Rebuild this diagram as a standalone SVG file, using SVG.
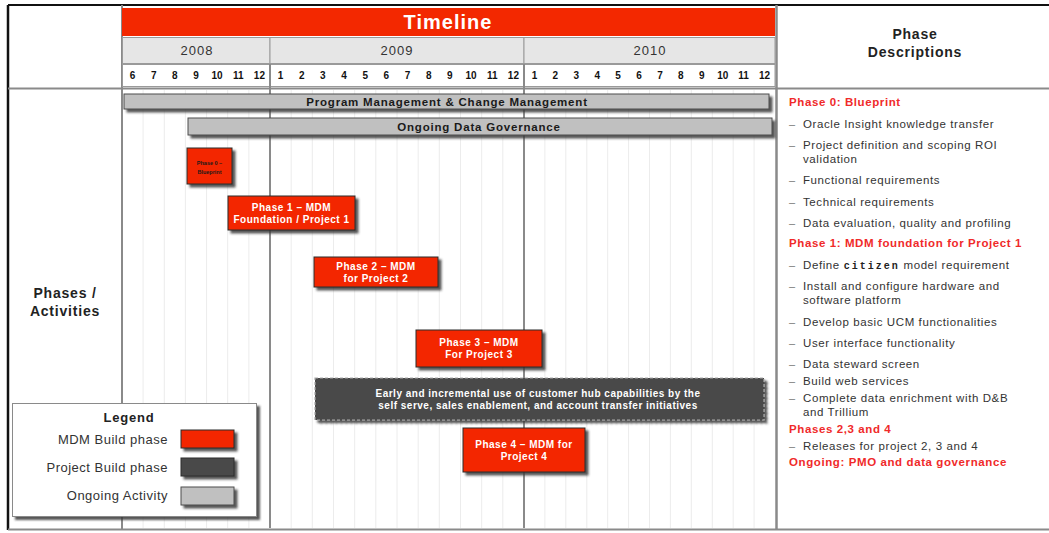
<svg xmlns="http://www.w3.org/2000/svg" width="1049" height="533" viewBox="0 0 1049 533">
  <defs>
    <style>
      .sans { font-family: "Liberation Sans", Arial, sans-serif; }
      .title { font-family: "Liberation Sans", Arial, sans-serif; font-weight: bold; font-size: 20px; letter-spacing: 1px; fill: #ffffff; }
      .year { font-family: "Liberation Sans", Arial, sans-serif; font-size: 13px; letter-spacing: 1px; fill: #333333; }
      .month { font-family: "Liberation Sans Narrow", "Liberation Sans", Arial, sans-serif; font-weight: bold; font-size: 10px; fill: #111111; }
      .grid { stroke: #ececec; stroke-width: 1; }
      .yearline { stroke: #8a8a8a; stroke-width: 2; }
      .bar { fill: #c0c0c0; stroke: #4d4d4d; stroke-width: 1; }
      .bartext { font-family: "Liberation Sans", Arial, sans-serif; font-weight: bold; font-size: 11.5px; letter-spacing: 0.8px; fill: #1a1a1a; }
      .mdm { fill: #f32800; stroke: #2a2a2a; stroke-width: 1; }
      .mdmtext { font-family: "Liberation Sans", Arial, sans-serif; font-weight: bold; font-size: 10px; letter-spacing: 0.5px; fill: #ffffff; }
      .tiny { font-family: "Liberation Sans", Arial, sans-serif; font-weight: bold; font-size: 5.5px; fill: #1a1a1a; }
      .proj { fill: #4a4a4a; stroke: #aaaaaa; stroke-width: 1.2; stroke-dasharray: 3 2; }
      .projtext { font-family: "Liberation Sans", Arial, sans-serif; font-weight: bold; font-size: 10px; letter-spacing: 0.5px; fill: #ffffff; }
      .head { font-family: "Liberation Sans", Arial, sans-serif; font-weight: bold; font-size: 14px; letter-spacing: 0.8px; fill: #222222; }
      .red { font-family: "Liberation Sans", Arial, sans-serif; font-weight: bold; font-size: 11.5px; letter-spacing: 0.6px; fill: #f02a2a; }
      .desc { font-family: "Liberation Sans", Arial, sans-serif; font-size: 11.5px; letter-spacing: 0.6px; fill: #333333; }
      .dash { font-family: "Liberation Sans", Arial, sans-serif; font-size: 11px; fill: #777777; }
      .mono { font-family: "Liberation Mono", "Courier New", monospace; font-weight: bold; font-size: 10px; letter-spacing: 2px; fill: #222222; }
      .legtext { font-family: "Liberation Sans", Arial, sans-serif; font-size: 13px; letter-spacing: 0.5px; fill: #333333; }
      .legtitle { font-family: "Liberation Sans", Arial, sans-serif; font-weight: bold; font-size: 13px; letter-spacing: 0.8px; fill: #222222; }
    </style>
    <filter id="shadow" x="-10%" y="-20%" width="130%" height="160%">
      <feDropShadow dx="3" dy="3" stdDeviation="1" flood-color="#3a3a3a" flood-opacity="0.85"/>
    </filter>
  </defs>

  <rect x="0" y="0" width="1049" height="533" fill="#ffffff"/>

  <!-- month gridlines in the chart body -->
  <g id="gridlines">
    <g class="grid">
      <line x1="143.1" y1="90" x2="143.1" y2="528"/>
      <line x1="164.3" y1="90" x2="164.3" y2="528"/>
      <line x1="185.4" y1="90" x2="185.4" y2="528"/>
      <line x1="206.6" y1="90" x2="206.6" y2="528"/>
      <line x1="227.7" y1="90" x2="227.7" y2="528"/>
      <line x1="248.9" y1="90" x2="248.9" y2="528"/>
      <line x1="291.2" y1="90" x2="291.2" y2="528"/>
      <line x1="312.3" y1="90" x2="312.3" y2="528"/>
      <line x1="333.5" y1="90" x2="333.5" y2="528"/>
      <line x1="354.7" y1="90" x2="354.7" y2="528"/>
      <line x1="375.8" y1="90" x2="375.8" y2="528"/>
      <line x1="397.0" y1="90" x2="397.0" y2="528"/>
      <line x1="418.2" y1="90" x2="418.2" y2="528"/>
      <line x1="439.3" y1="90" x2="439.3" y2="528"/>
      <line x1="460.5" y1="90" x2="460.5" y2="528"/>
      <line x1="481.7" y1="90" x2="481.7" y2="528"/>
      <line x1="502.8" y1="90" x2="502.8" y2="528"/>
      <line x1="544.9" y1="90" x2="544.9" y2="528"/>
      <line x1="565.8" y1="90" x2="565.8" y2="528"/>
      <line x1="586.8" y1="90" x2="586.8" y2="528"/>
      <line x1="607.7" y1="90" x2="607.7" y2="528"/>
      <line x1="628.6" y1="90" x2="628.6" y2="528"/>
      <line x1="649.5" y1="90" x2="649.5" y2="528"/>
      <line x1="670.4" y1="90" x2="670.4" y2="528"/>
      <line x1="691.3" y1="90" x2="691.3" y2="528"/>
      <line x1="712.3" y1="90" x2="712.3" y2="528"/>
      <line x1="733.2" y1="90" x2="733.2" y2="528"/>
      <line x1="754.1" y1="90" x2="754.1" y2="528"/>
    </g>
    <line class="yearline" x1="270" y1="64" x2="270" y2="528"/>
    <line class="yearline" x1="524" y1="64" x2="524" y2="528"/>
  </g>

  <!-- frame -->
  <g id="frame">
    <line x1="8" y1="5" x2="1049" y2="5" stroke="#111111" stroke-width="2"/>
    <line x1="8" y1="5" x2="8" y2="530" stroke="#111111" stroke-width="2.5"/>
    <line x1="8" y1="529.5" x2="1049" y2="529.5" stroke="#8a8a8a" stroke-width="2"/>
    <line x1="122" y1="5" x2="122" y2="529" stroke="#8a8a8a" stroke-width="2"/>
    <line x1="776.5" y1="5" x2="776.5" y2="529" stroke="#8a8a8a" stroke-width="2.5"/>
    <line x1="8" y1="88.5" x2="1049" y2="88.5" stroke="#8a8a8a" stroke-width="2"/>
  </g>

  <!-- timeline header -->
  <g id="timeline-header">
    <rect x="122" y="8" width="653" height="28" fill="#f32800"/>
    <text class="title" x="448" y="29" text-anchor="middle">Timeline</text>
    <rect x="122.5" y="37.5" width="147.5" height="26" fill="#e6e6e6" stroke="#9a9a9a"/>
    <rect x="270" y="37.5" width="254" height="26" fill="#e6e6e6" stroke="#9a9a9a"/>
    <rect x="524" y="37.5" width="251" height="26" fill="#e6e6e6" stroke="#9a9a9a"/>
    <text class="year" x="197" y="55" text-anchor="middle">2008</text>
    <text class="year" x="397" y="55" text-anchor="middle">2009</text>
    <text class="year" x="650" y="55" text-anchor="middle">2010</text>
    <rect x="122.5" y="64.5" width="652.5" height="22" fill="#ffffff" stroke="#9a9a9a"/>
    <line class="yearline" x1="270" y1="64" x2="270" y2="87"/>
    <line class="yearline" x1="524" y1="64" x2="524" y2="87"/>
    <g class="month" text-anchor="middle">
      <text x="132.6" y="79">6</text><text x="153.7" y="79">7</text><text x="174.9" y="79">8</text>
      <text x="196.0" y="79">9</text><text x="217.1" y="79">10</text><text x="238.3" y="79">11</text>
      <text x="259.4" y="79">12</text>
      <text x="280.6" y="79">1</text><text x="301.8" y="79">2</text><text x="322.9" y="79">3</text>
      <text x="344.1" y="79">4</text><text x="365.3" y="79">5</text><text x="386.4" y="79">6</text>
      <text x="407.6" y="79">7</text><text x="428.8" y="79">8</text><text x="449.9" y="79">9</text>
      <text x="471.1" y="79">10</text><text x="492.3" y="79">11</text><text x="513.4" y="79">12</text>
      <text x="534.5" y="79">1</text><text x="555.4" y="79">2</text><text x="576.3" y="79">3</text>
      <text x="597.2" y="79">4</text><text x="618.1" y="79">5</text><text x="639.0" y="79">6</text>
      <text x="660.0" y="79">7</text><text x="680.9" y="79">8</text><text x="701.8" y="79">9</text>
      <text x="722.7" y="79">10</text><text x="743.6" y="79">11</text><text x="764.5" y="79">12</text>
    </g>
  </g>

  <!-- row label -->
  <g id="row-label">
    <text class="head" x="65" y="298" text-anchor="middle">Phases /</text>
    <text class="head" x="65" y="316" text-anchor="middle">Activities</text>
  </g>

  <!-- activity bars -->
  <g id="program-management">
    <rect class="bar" x="124" y="94" width="645" height="15" filter="url(#shadow)"/>
    <text class="bartext" x="447" y="106" text-anchor="middle">Program Management  &amp; Change Management</text>
  </g>
  <g id="data-governance">
    <rect class="bar" x="188" y="118" width="584" height="17" filter="url(#shadow)"/>
    <text class="bartext" x="479" y="131" text-anchor="middle">Ongoing Data Governance</text>
  </g>

  <g id="phase0">
    <rect class="mdm" x="187" y="148" width="45" height="36" filter="url(#shadow)"/>
    <text class="tiny" x="209.5" y="165" text-anchor="middle">Phase 0 –</text>
    <text class="tiny" x="209.5" y="174" text-anchor="middle">Blueprint</text>
  </g>
  <g id="phase1">
    <rect class="mdm" x="228" y="196" width="127" height="34" filter="url(#shadow)"/>
    <text class="mdmtext" x="291.5" y="211" text-anchor="middle">Phase 1 – MDM</text>
    <text class="mdmtext" x="291.5" y="223" text-anchor="middle">Foundation / Project 1</text>
  </g>
  <g id="phase2">
    <rect class="mdm" x="314" y="257" width="124" height="30" filter="url(#shadow)"/>
    <text class="mdmtext" x="376" y="270" text-anchor="middle">Phase 2 – MDM</text>
    <text class="mdmtext" x="376" y="282" text-anchor="middle">for Project 2</text>
  </g>
  <g id="phase3">
    <rect class="mdm" x="416" y="330" width="126" height="37" filter="url(#shadow)"/>
    <text class="mdmtext" x="479" y="346" text-anchor="middle">Phase 3 – MDM</text>
    <text class="mdmtext" x="479" y="358" text-anchor="middle">For Project 3</text>
  </g>
  <g id="project-build">
    <rect class="proj" x="315" y="378" width="449" height="42" filter="url(#shadow)"/>
    <text class="projtext" x="538" y="397" text-anchor="middle">Early and incremental use of customer hub capabilities by the</text>
    <text class="projtext" x="538" y="409" text-anchor="middle">self serve, sales enablement, and account transfer initiatives</text>
  </g>
  <g id="phase4">
    <rect class="mdm" x="463" y="428" width="122" height="44" filter="url(#shadow)"/>
    <text class="mdmtext" x="524" y="448" text-anchor="middle">Phase 4 – MDM for</text>
    <text class="mdmtext" x="524" y="460" text-anchor="middle">Project 4</text>
  </g>

  <!-- legend -->
  <g id="legend">
    <rect x="12.5" y="403.5" width="244" height="113" fill="#ffffff" stroke="#8a8a8a" stroke-width="1" filter="url(#shadow)"/>
    <text class="legtitle" x="129" y="422" text-anchor="middle">Legend</text>
    <text class="legtext" x="168" y="444" text-anchor="end">MDM Build phase</text>
    <rect class="mdm" x="181" y="430" width="53" height="18" filter="url(#shadow)"/>
    <text class="legtext" x="168" y="472" text-anchor="end">Project Build phase</text>
    <rect x="181" y="458" width="53" height="18" fill="#4a4a4a" stroke="#2a2a2a" filter="url(#shadow)"/>
    <text class="legtext" x="168" y="500" text-anchor="end">Ongoing Activity</text>
    <rect class="bar" x="181" y="487" width="53" height="18" filter="url(#shadow)"/>
  </g>

  <!-- phase descriptions -->
  <g id="descriptions">
    <text class="head" x="915" y="39" text-anchor="middle">Phase</text>
    <text class="head" x="915" y="57" text-anchor="middle">Descriptions</text>

    <text class="red" x="789" y="106">Phase 0: Blueprint</text>
    <g class="dash">
      <text x="789" y="128">–</text><text x="789" y="149">–</text><text x="789" y="184">–</text>
      <text x="789" y="206">–</text><text x="789" y="227">–</text><text x="789" y="269">–</text>
      <text x="789" y="290">–</text><text x="789" y="326">–</text><text x="789" y="347">–</text>
      <text x="789" y="368">–</text><text x="789" y="385">–</text><text x="789" y="402">–</text>
      <text x="789" y="450">–</text>
    </g>
    <g class="desc">
      <text x="803" y="128">Oracle Insight knowledge transfer</text>
      <text x="803" y="149">Project definition and scoping ROI</text>
      <text x="803" y="163">validation</text>
      <text x="803" y="184">Functional requirements</text>
      <text x="803" y="206">Technical requirements</text>
      <text x="803" y="227">Data evaluation, quality and profiling</text>
      <text x="803" y="269">Define <tspan class="mono">citizen</tspan> model requirement</text>
      <text x="803" y="290">Install and configure hardware and</text>
      <text x="803" y="304">software platform</text>
      <text x="803" y="326">Develop basic UCM functionalities</text>
      <text x="803" y="347">User interface functionality</text>
      <text x="803" y="368">Data steward screen</text>
      <text x="803" y="385">Build web services</text>
      <text x="803" y="402">Complete data enrichment with D&amp;B</text>
      <text x="803" y="416">and Trillium</text>
      <text x="803" y="450">Releases for project 2, 3 and 4</text>
    </g>
    <text class="red" x="789" y="247">Phase 1: MDM foundation for Project 1</text>
    <text class="red" x="789" y="433">Phases 2,3 and 4</text>
    <text class="red" x="789" y="466">Ongoing: PMO and data governance</text>
  </g>
</svg>
